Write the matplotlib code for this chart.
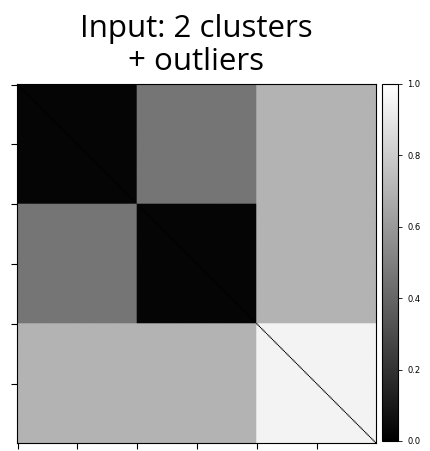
import numpy as np
import matplotlib
matplotlib.use("Agg")
import matplotlib.pyplot as plt

# Group sizes (cluster A, cluster B, outliers)
group_names = ["cluster 1", "cluster 2", "outliers"]
group_sizes = [100, 100, 100]
# Mean pairwise distance between groups (block values)
block_values = [
    [0.02, 0.46, 0.70],
    [0.46, 0.02, 0.70],
    [0.70, 0.70, 0.95],
]
diag_value = 0.0
tick_positions = [0, 50, 100, 150, 200, 250]
cbar_ticks = [0.0, 0.2, 0.4, 0.6, 0.8, 1.0]

labels = np.repeat(np.arange(len(group_sizes)), group_sizes)
B = np.array(block_values)
D = B[labels][:, labels]
np.fill_diagonal(D, diag_value)

fig = plt.figure(figsize=(4.31, 4.51), dpi=100)
W, H = 431, 451
ax = fig.add_axes([17 / W, 1 - 443 / H, 359 / W, 359 / H])
im = ax.imshow(D, cmap="gray", vmin=0, vmax=1, interpolation="antialiased", aspect="auto")
ax.set_xticks(tick_positions)
ax.set_yticks(tick_positions)
ax.set_xticklabels([])
ax.set_yticklabels([])
ax.tick_params(length=4, width=0.8)
for s in ax.spines.values():
    s.set_linewidth(0.8)
ax.set_title("Input: 2 clusters\n+ outliers", fontsize=22.5, pad=10, linespacing=1.13,
             family="Open Sans")

cax = fig.add_axes([382 / W, 1 - 441 / H, 16 / W, 357 / H])
cb = fig.colorbar(im, cax=cax, ticks=cbar_ticks)
cb.ax.tick_params(labelsize=6, length=3, width=0.6)
cb.outline.set_linewidth(0.8)

fig.savefig("out.png", dpi=100)
